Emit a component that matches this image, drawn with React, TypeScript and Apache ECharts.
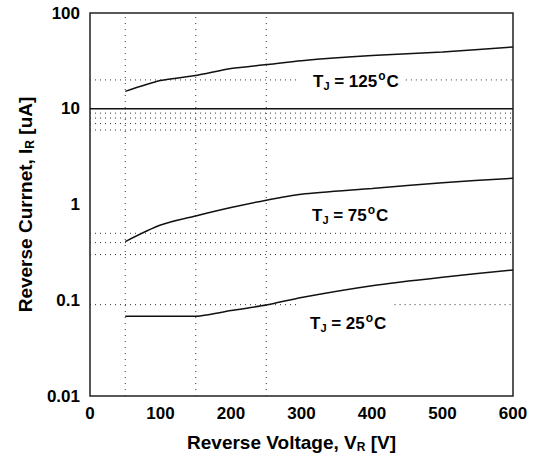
import React, { useEffect, useRef } from "react";
import * as echarts from "echarts";

const voltages = [50, 100, 150, 200, 250, 300, 400, 500, 600];
const current125 = [15.2, 19.7, 22.2, 26.3, 28.9, 31.8, 35.9, 39.2, 44.2];
const current75 = [0.41, 0.61, 0.76, 0.93, 1.11, 1.28, 1.47, 1.69, 1.88];
const voltages25 = [50, 100, 150, 165, 200, 250, 300, 400, 500, 600];
const current25 = [0.068, 0.068, 0.068, 0.07, 0.078, 0.089, 0.107, 0.142, 0.174, 0.207];

const xTicks = [0, 100, 200, 300, 400, 500, 600];
const yTicks = ["0.01", "0.1", "1", "10", "100"];
const vGrid = [50, 150, 250];
const hGridFull = [9, 8, 7, 6, 0.5, 0.4, 0.3];
const hGridSplit: { y: number; segs: [number, number][] }[] = [
  { y: 20, segs: [[0, 298], [448, 600]] },
  { y: 0.09, segs: [[0, 298], [432, 600]] },
];

const FONT = "'Liberation Sans', Arial, sans-serif";

export default function App() {
  const ref = useRef<HTMLDivElement>(null);
  useEffect(() => {
    if (!ref.current) return;
    const chart = echarts.init(ref.current, undefined, { renderer: "svg" });
    const dotted = { color: "#333", width: 1, type: [1, 4] as any };
    const series: any[] = [];
    vGrid.forEach((x) =>
      series.push({
        type: "line", data: [[x, 0.01], [x, 100]], symbol: "none", silent: true,
        lineStyle: { ...dotted, type: [1, 5] },
      })
    );
    hGridFull.forEach((y) =>
      series.push({
        type: "line", data: [[0, y], [600, y]], symbol: "none", silent: true,
        lineStyle: dotted,
      })
    );
    hGridSplit.forEach((g) =>
      g.segs.forEach((s) =>
        series.push({
          type: "line", data: [[s[0], g.y], [s[1], g.y]], symbol: "none", silent: true,
          lineStyle: dotted,
        })
      )
    );
    series.push({
      type: "line", data: [[0, 10], [600, 10]], symbol: "none", silent: true,
      lineStyle: { color: "#111", width: 1.5 },
    });
    const curve = (xs: number[], ys: number[]) => ({
      type: "line",
      data: xs.map((x, i) => [x, ys[i]]),
      symbol: "none",
      smooth: 0.25,
      lineStyle: { color: "#111", width: 1.5 },
    });
    series.push(curve(voltages, current125));
    series.push(curve(voltages, current75));
    series.push(curve(voltages25, current25));

    const labelStyle = (text: string, x: number, y: number) => ({
      type: "text",
      left: x,
      top: y,
      style: {
        text,
        fill: "#000",
        font: `bold 17px ${FONT}`,
        rich: {
          sub: { fontSize: 11, fontWeight: "bold", fontFamily: FONT, padding: [9, 0, 0, 0], fill: "#000" },
          sup: { fontSize: 12, fontWeight: "bold", fontFamily: FONT, padding: [0, 1, 11, 1], fill: "#000" },
        },
      },
    });

    const nameRich = {
      sub: { fontSize: 12, fontWeight: "bold", fontFamily: FONT, color: "#000", padding: [9, 0, 0, 0] },
    };

    chart.setOption({
      animation: false,
      grid: {
        left: 90, top: 13, right: 22, bottom: 61,
        show: true, borderColor: "#222", borderWidth: 1.5, backgroundColor: "#fff",
      },
      xAxis: {
        type: "value", min: 0, max: 600, interval: 100,
        axisLine: { show: false }, axisTick: { show: false }, splitLine: { show: false },
        axisLabel: {
          color: "#000", fontWeight: "bold", fontSize: 17, fontFamily: FONT, margin: 9,
          formatter: (v: number) => (xTicks.includes(v) ? String(v) : ""),
        },
        name: "Reverse Voltage, V{sub|R} [V]",
        nameLocation: "middle", nameGap: 36,
        nameTextStyle: {
          color: "#000", fontWeight: "bold", fontSize: 19, fontFamily: FONT, rich: nameRich,
          padding: [0, 20, 0, 0],
        },
      },
      yAxis: {
        type: "log", logBase: 10, min: 0.01, max: 100,
        axisLine: { show: false }, axisTick: { show: false }, splitLine: { show: false },
        minorTick: { show: false }, minorSplitLine: { show: false },
        axisLabel: {
          color: "#000", fontWeight: "bold", fontSize: 17, fontFamily: FONT, margin: 10,
          formatter: (v: number) => {
            const s = yTicks.find((t) => Math.abs(parseFloat(t) - v) / v < 1e-6);
            return s ?? "";
          },
        },
        name: "Reverse Currnet, I{sub|R} [uA]",
        nameLocation: "middle", nameGap: 54, nameRotate: 90,
        nameTextStyle: {
          color: "#000", fontWeight: "bold", fontSize: 19, fontFamily: FONT, rich: nameRich,
        },
      },
      series,
      graphic: [
        labelStyle("T{sub|J} = 125{sup|o}C", 313, 70),
        labelStyle("T{sub|J} = 75{sup|o}C", 312, 204),
        labelStyle("T{sub|J} = 25{sup|o}C", 310, 312),
      ],
    });
    return () => chart.dispose();
  }, []);
  return <div ref={ref} style={{ width: 535, height: 458, position: "absolute", left: 0, top: 0 }} />;
}
